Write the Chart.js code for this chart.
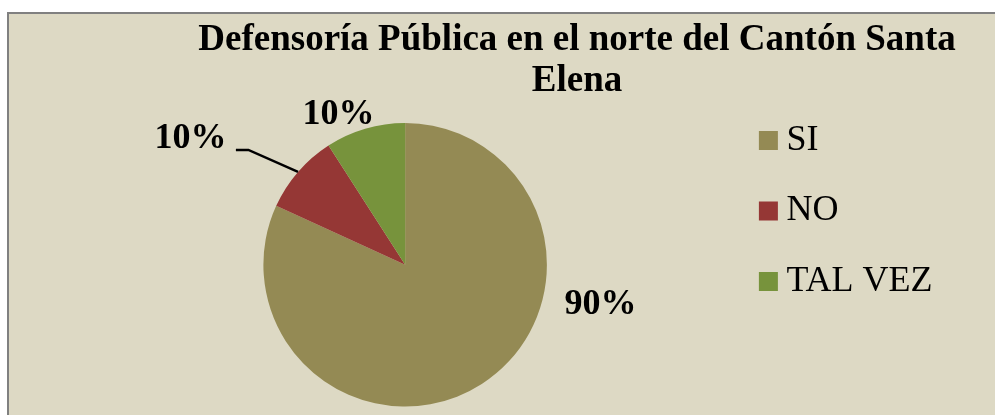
<!DOCTYPE html>
<html>
<head>
<meta charset="utf-8">
<script src="https://cdn.jsdelivr.net/npm/chart.js@4/dist/chart.umd.min.js"></script>
<style>
  html, body { margin: 0; padding: 0; background: #ffffff; overflow: hidden; width: 995px; height: 415px; }
  #frame { position: absolute; left: 7px; top: 12px; width: 1100px; height: 500px; background: #DDD9C4; border: 2px solid #808080; box-sizing: border-box; }
  #c { position: absolute; left: 0; top: 0; }
</style>
</head>
<body>
<div id="frame"></div>
<canvas id="c" width="1160" height="415"></canvas>
<script>
const titleLines = ['Defensoría Pública en el norte del Cantón Santa', 'Elena'];
const categories = ['SI', 'NO', 'TAL VEZ'];
const values = [90, 10, 10];
const sliceColors = ['#948A54', '#953735', '#77933C'];

// label placement (relative to pie centre, in units of the radius)
const labelOffsets = [[1.378, 0.284], [-1.515, -0.891], [-0.471, -1.056]];
const leaderFor = [false, true, false];

const sliceLabels = {
  id: 'sliceLabels',
  afterDatasetsDraw(chart) {
    const meta = chart.getDatasetMeta(0);
    const ctx = chart.ctx;
    ctx.save();
    ctx.font = 'bold 36px "Liberation Serif"';
    ctx.fillStyle = '#000000';
    ctx.strokeStyle = '#000000';
    ctx.textAlign = 'center';
    ctx.textBaseline = 'middle';
    meta.data.forEach((arc, i) => {
      const p = arc.getProps(['x', 'y', 'startAngle', 'endAngle', 'outerRadius'], true);
      const r = p.outerRadius;
      const lx = p.x + labelOffsets[i][0] * r;
      const ly = p.y + labelOffsets[i][1] * r;
      ctx.fillText(values[i] + '%', lx, ly);
      if (leaderFor[i]) {
        const mid = (p.startAngle + p.endAngle) / 2;
        const ex = p.x + Math.cos(mid) * r;
        const ey = p.y + Math.sin(mid) * r;
        const w = ctx.measureText(values[i] + '%').width;
        ctx.lineWidth = 2.5;
        ctx.beginPath();
        ctx.moveTo(ex, ey);
        ctx.lineTo(lx + w / 2 + 22, ly + 11.5);
        ctx.lineTo(lx + w / 2 + 9.5, ly + 11.5);
        ctx.stroke();
      }
    });
    ctx.restore();
  }
};

Chart.defaults.font.family = '"Liberation Serif", "Times New Roman", serif';

new Chart(document.getElementById('c'), {
  type: 'pie',
  data: {
    labels: categories,
    datasets: [{
      data: values,
      backgroundColor: sliceColors,
      borderWidth: 0
    }]
  },
  options: {
    responsive: false,
    animation: false,
    devicePixelRatio: 1,
    layout: { padding: { left: 76.4, right: 82.4, top: 15.5, bottom: 8.5 } },
    plugins: {
      tooltip: { enabled: false },
      title: {
        display: true,
        text: titleLines,
        color: '#000000',
        font: { family: '"Liberation Serif"', size: 37, weight: 'bold', lineHeight: '41px' },
        padding: { top: 4.5, bottom: 21 }
      },
      subtitle: {
        display: true,
        position: 'right',
        text: '',
        font: { size: 10, lineHeight: '10px' },
        padding: { top: 0, bottom: 125.13 }
      },
      legend: {
        position: 'right',
        align: 'center',
        labels: {
          usePointStyle: true,
          pointStyle: 'rect',
          boxWidth: 0.01,
          boxHeight: 19,
          padding: 34.5,
          color: '#000000',
          font: { family: '"Liberation Serif"', size: 36 }
        }
      }
    }
  },
  plugins: [sliceLabels]
});
</script>
</body>
</html>
